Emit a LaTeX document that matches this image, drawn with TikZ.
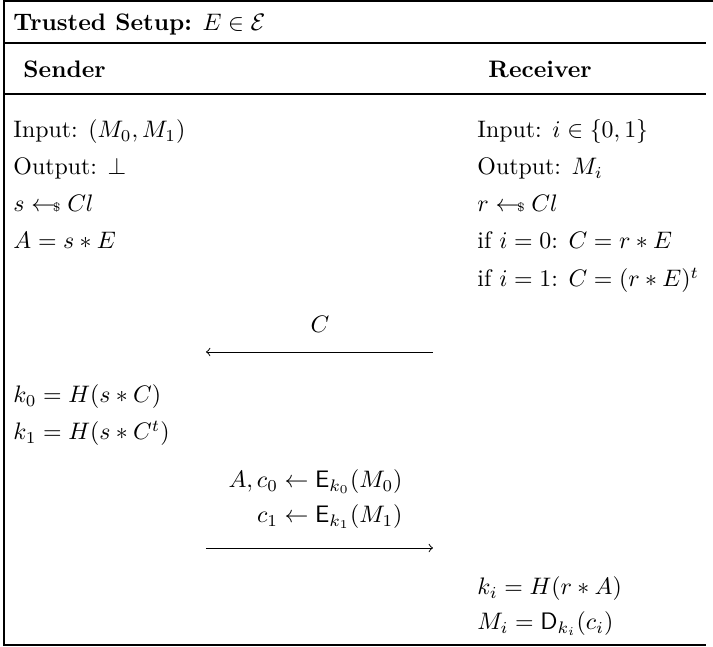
\documentclass[tikz,border=0pt]{standalone}
\usepackage{amsmath,amssymb}
\newcommand{\smp}{\mathrel{{\gets}\mkern-2mu{\scriptscriptstyle\$}}}
\begin{document}
\begin{tikzpicture}[x=0.419pt,y=-0.419pt,
  txt/.style={inner sep=0pt,anchor=base west},
  txtr/.style={inner sep=0pt,anchor=base east},
  frameline/.style={line width=0.45pt},
  msg/.style={line width=0.4pt,->,>=to}]
\useasboundingbox (0,0) rectangle (713,647);
% frame
\draw[frameline] (713,1) -- (4,1) -- (4,645) -- (706,645);
\draw[frameline] (4,43) -- (706,43);
\draw[frameline] (4,94) -- (706,94);
% header
\node[txt] (title) at (13,31) {\textbf{Trusted Setup:} $E\in\mathcal{E}$};
\node[txt] (snd) at (23,78) {\textbf{Sender}};
\node[txt] (rcv) at (488,78) {\textbf{Receiver}};
% sender column
\node[txt] (s1) at (13,138) {Input: $(M_0,M_1)$};
\node[txt] (s2) at (13,175) {Output: $\perp$};
\node[txt] (s3) at (13,212) {$s\smp Cl$};
\node[txt] (s4) at (13,249) {$A=s*E$};
% receiver column
\node[txt] (r1) at (477,138) {Input: $i\in\{0,1\}$};
\node[txt] (r2) at (477,175) {Output: $M_i$};
\node[txt] (r3) at (477,212) {$r\smp Cl$};
\node[txt] (r4) at (477,249) {if $i=0$: $C=r*E$};
\node[txt] (r5) at (477,287) {if $i=1$: $C=(r*E)^t$};
% first message
\node[inner sep=0pt,anchor=base] (lc) at (320,333) {$C$};
\coordinate (m1a) at (433,352);
\coordinate (m1b) at (206,352);
\draw[msg] (m1a) -- (m1b);
% sender keys
\node[txt] (k0) at (13,403) {$k_0=H(s*C)$};
\node[txt] (k1) at (13,440) {$k_1=H(s*C^t)$};
% second message
\node[txtr] (e0) at (403,488) {$A,c_0\gets\mathsf{E}_{k_0}(M_0)$};
\node[txtr] (e1) at (403,523) {$c_1\gets\mathsf{E}_{k_1}(M_1)$};
\coordinate (m2a) at (206,548);
\coordinate (m2b) at (433,548);
\draw[msg] (m2a) -- (m2b);
% receiver output
\node[txt] (ki) at (477,595) {$k_i=H(r*A)$};
\node[txt] (mi) at (477,630) {$M_i=\mathsf{D}_{k_i}(c_i)$};
\end{tikzpicture}
\end{document}
